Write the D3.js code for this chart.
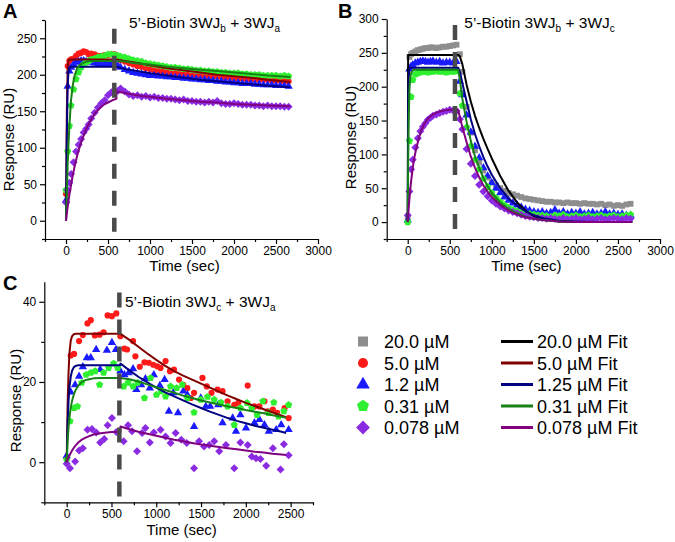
<!DOCTYPE html>
<html><head><meta charset="utf-8">
<script src="https://cdn.jsdelivr.net/npm/d3@7"></script>
<style>
body{margin:0;background:#fff}
svg text{font-family:Arial,"Liberation Sans",sans-serif;fill:#000}
</style>
</head><body>
<svg id="c" width="675" height="542"></svg>
<script>
// ---------------- DATA ----------------
const seriesKeys = ["gray","red","blue","green","purple"];
const legendData = ["20.0 µM","5.0 µM","1.2 µM","0.31 µM","0.078 µM"];
const legendFit  = ["20.0 µM Fit","5.0 µM Fit","1.25 µM Fit","0.31 µM Fit","0.078 µM Fit"];

const xTicksAB = [0,500,1000,1500,2000,2500,3000];
const xMinorAB = [-250,250,750,1250,1750,2250,2750];
const yTicksA = [0,50,100,150,200,250];
const yMinorA = [-25,25,75,125,175,225,275];
const yTicksB = [0,50,100,150,200,250,300];
const yMinorB = [-25,25,75,125,175,225,275];
const xTicksC = [0,500,1000,1500,2000,2500];
const xMinorC = [-250,250,750,1250,1750,2250,2750];
const yTicksC = [0,20,40];
const yMinorC = [-10,10,30];

// sample times for panels A and B (sec)
const tAB = [0,20,40,60,90,120,150,180,210,240,270,300,340,380,420,460,500,540,580,620,650,700,750,800,850,900,950,1000,1050,1100,1150,1200,1250,1300,1350,1400,1450,1500,1550,1600,1650,1700,1750,1800,1850,1900,1950,2000,2050,2100,2150,2200,2250,2300,2350,2400,2450,2500,2550,2600,2650];

// Panel A: 5'-Biotin 3WJb + 3WJa
const aRed = [37,212,219,221,222,226,229,230,232,231,228,229,228,226,226,227,227,228,228,
  222,220,218,216,214,212,211,209,208,206,205,204,203,202,202,201,200,200,199,200,199,198,198,197,198,197,196,196,195,195,195,194,194,194,193,193,193,192,192,192,191,191];
const aBlue = [28,184,205,210,214,217,218,219,219,218,218,217,216,215,214,214,215,216,216,
  212,210,207,205,203,202,201,200,199,199,198,198,197,197,196,196,195,195,194,194,193,193,192,192,191,191,190,190,189,189,188,188,188,187,187,186,186,186,185,185,185,184];
const aGreen = [42,95,130,158,180,194,203,210,214,217,219,221,222,224,225,226,228,228,227,
  226,225,224,222,220,219,218,216,215,214,213,212,211,210,210,209,208,208,207,206,206,205,205,204,204,203,203,202,202,202,201,201,200,200,200,199,199,199,199,198,199,198];
const aPurple = [25,42,52,64,80,95,104,112,121,126,132,140,148,155,161,165,172,176,178,
  178,181,177,173,171,172,170,171,169,170,168,168,167,167,166,165,166,164,164,163,163,162,163,162,164,161,160,160,161,160,159,159,159,158,158,157,158,157,157,157,156,156];

const tFitA = [0,10,20,30,40,60,80,100,130,160,200,250,300,350,400,450,500,550,600,600,700,800,900,1000,1200,1400,1600,1800,2000,2200,2400,2670];
const aRedFit = [0,150,210,220,221,221,221,221,221,221,221,221,221,221,221,221,221,221,221,221,219,217,215,213,209,206,203,200,198,196,193,190];
const aBlueFit = [0,120,185,205,210,211,211,211,211,211,211,211,211,211,211,211,211,211,211,211,208,206,204,202,199,196,193,191,189,187,185,183];
const aGreenFit = [0,40,78,105,130,165,185,198,208,213,216,218,219,219,219,219,219,219,219,219,218,216,215,214,211,209,207,205,203,201,199,197];
const aPurpleFit = [0,10,19,27,35,49,62,73,88,100,114,128,139,148,154,159,162,165,167,177,175,173,171,170,167,165,163,162,160,159,158,157];

// Panel B: 5'-Biotin 3WJb + 3WJc
const bGray = [5,244,248,250,252,254,255,256,257,257,258,258,257,258,259,259,260,261,262,
  248,222,170,132,106,88,76,66,59,54,50,46,43,41,39,37,35,34,33,32,31,30,30,29,29,28,29,28,28,27,28,27,27,26,27,25,26,24,25,24,26,27];
const bBlue = [3,226,230,232,235,236,237,238,237,236,237,238,236,237,235,236,236,235,237,
  208,188,158,133,112,95,80,68,58,50,43,37,32,28,25,22,19,17,15,14,15,13,14,18,13,15,12,14,13,15,12,13,14,12,13,15,12,13,11,12,10,10];
const bGreen = [0,120,185,210,218,220,221,222,222,221,222,222,223,222,222,221,222,222,223,
  190,172,140,112,92,78,64,52,43,36,30,25,21,18,16,14,13,12,11,10,10,9,8,10,9,11,8,9,10,8,9,10,8,9,10,8,9,10,8,9,10,11];
const bPurple = [10,45,78,92,110,124,134,141,146,151,154,157,159,161,163,164,166,165,164,
  152,137,108,86,68,55,45,38,32,27,23,20,17,15,13,11,9,8,7,6,6,5,6,5,4,6,4,5,6,4,5,6,4,5,6,4,5,6,5,4,6,5];

const tFitB = [0,5,10,20,30,40,60,80,100,130,160,200,250,300,350,400,450,500,550,600,620,650,700,750,800,850,900,950,1000,1100,1200,1300,1400,1500,1600,1800,2000,2300,2670];
const bBlackFit = [0,247,247,247,247,247,247,247,247,247,247,247,247,247,247,247,247,247,247,247,245,233,203,178,157,139,123,108,94,68,46,29,17,9,5,1,0,0,0];
const bBlueFit = [0,150,210,227,228,228,228,228,228,228,228,228,228,228,228,228,228,228,228,228,222,205,178,152,130,112,96,82,70,50,35,24,16,10,6,2,1,0,0];
const bGreenFit = [0,80,140,195,213,220,224,225,225,225,225,225,225,225,225,225,225,225,225,225,210,182,148,120,97,80,65,53,43,29,19,13,8,5,3,1,0,0,0];
const bPurpleFit = [0,9,18,34,48,60,80,96,108,123,135,146,154,159,162,164,165,166,166,166,155,140,118,97,80,66,54,45,37,25,17,11,7,5,3,1,0,0,0];

// Panel C: 5'-Biotin 3WJc + 3WJa
const cRedT = [0,45,82,138,180,232,269,314,367,412,457,505,554,599,644,674,741,767,816,868,917,966,1010,1048,1104,1153,1198,1254,1302,1347,1385,1422,1516,1564,1617,1684,1740,1796,1871,1916,2021,2096,2152,2208,2245,2302,2350,2433,2478];
const cRed = [1,26.6,27,30.2,31.7,34.6,35.4,31.6,31.8,32.4,36.6,36.4,37.1,31.4,28.3,28.1,30.2,26.4,23.8,24.9,24.8,24.3,23.9,23.5,25.2,22.7,23.1,20.6,19.3,18.5,16,17.3,21,18.9,17.3,18.1,17.7,15.2,14.3,14.8,19.1,13.9,13.9,15.2,12.7,13.1,12.3,13.5,11];
const cBlueT = [0,45,94,138,180,225,269,329,374,449,505,550,599,644,692,741,778,831,879,928,973,1040,1093,1141,1190,1243,1302,1347,1422,1497,1553,1602,1692,1740,1853,1890,1939,2002,2096,2152,2208,2257,2339,2395,2478];
const cBlue = [1.6,17.5,19.3,21.4,23.8,26,26,28.1,23.1,27.9,29.8,28.1,22.7,21.8,22.3,23.3,18.1,19.3,20.8,18.5,21.8,19.1,20.6,12.7,17.3,12.3,17.7,16.8,8.9,16,13.9,13.9,14.3,9.8,11,7.7,11.8,8.5,9.8,10.6,9.3,7.7,8.1,9.3,8.1];
const cGreenT = [0,37,82,120,168,217,269,318,367,412,468,524,569,636,685,741,793,868,936,1003,1055,1104,1160,1228,1291,1347,1422,1497,1572,1647,1722,1796,1871,1939,2013,2066,2126,2189,2253,2313,2365,2425,2478];
const cGreen = [0.6,10.2,13.5,13.9,19.8,21.8,22.3,22.7,19.3,22.3,23.5,24.6,23.5,18.9,19.8,18.9,19.8,16,21,16.8,17.7,16.4,18.9,18.5,19.3,16,12.4,15.6,16.3,15.6,14.9,13.9,9.3,13.5,14.8,13.5,11.8,15.2,12.3,14.9,11.4,12.7,14.3];
const cPurpleT = [0,37,94,138,180,232,281,329,374,419,457,505,554,636,685,730,786,842,879,928,973,1048,1104,1160,1216,1280,1340,1422,1478,1534,1591,1647,1703,1778,1871,1939,2021,2066,2114,2163,2227,2302,2388,2425,2478];
const cPurple = [-0.4,-1.5,0.2,2.9,3.5,8.1,8.3,7.4,4.9,5.8,9.2,11,7.5,5.2,9.2,7.7,2.7,7.3,8.5,4.9,7.4,8.1,6.4,4.8,7.3,5.6,4.8,-1.5,5.2,3.9,4.3,5.2,2.7,4.3,-1.5,4.9,4.3,1.4,1,0.8,-0.9,3.5,-1.8,4.5,1.7];

const tFitC = [0,10,20,30,45,60,80,100,130,160,200,250,300,400,500,600,600,700,800,900,1000,1100,1200,1300,1400,1500,1600,1700,1800,1900,2000,2100,2200,2300,2400,2450];
const cRedFit = [0,14,22,27,30.3,31.4,31.9,32,32,32,32,32,32,32,32,32,32,30.5,28.8,27.1,25.5,24,22.7,21.6,20.6,19.6,18.6,17.6,16.6,15.7,14.8,14,13.2,12.4,11.6,11.2];
const cBlueFit = [0,9,15,18.5,21.3,22.8,23.7,24,24.2,24.2,24.2,24.2,24.2,24.2,24.2,24.2,24.6,22.9,21.3,19.9,18.6,17.4,16.4,15.4,14.4,13.5,12.6,11.8,11,10.3,9.7,9.1,8.6,8.1,7.6,7.3];
const cGreenFit = [0,5,8.5,11,13.6,15.3,16.9,18,19.1,19.8,20.4,20.7,20.9,21,21,21,21,20.7,20.1,19.4,18.7,18,17.3,16.6,16,15.4,14.9,14.4,13.9,13.5,13,12.6,12.2,11.7,11.3,11.1];
const cPurpleFit = [0,0.6,1.1,1.6,2.3,2.9,3.6,4.2,4.9,5.5,6,6.5,6.9,7.3,7.5,7.6,8.9,8.2,7.6,7.1,6.6,6.1,5.6,5.2,4.8,4.4,4.1,3.8,3.5,3.2,2.9,2.6,2.4,2.1,1.9,1.8];

// injection end markers (time, value span)
const injA = {t:575, v0:-15, v1:263};
const injB = {t:562, v0:-15, v1:291};
const injC = {t:588, v0:-10, v1:42.3};

const titleA = [["5’-Biotin 3WJ",0],["b",1],[" + 3WJ",0],["a",1]];
const titleB = [["5’-Biotin 3WJ",0],["b",1],[" + 3WJ",0],["c",1]];
const titleC = [["5’-Biotin 3WJ",0],["c",1],[" + 3WJ",0],["a",1]];

// ---------------- STYLE ----------------
const pent = {draw(ctx,size){const r=Math.sqrt(size/2.3776);for(let i=0;i<5;i++){const a=-Math.PI/2+i*2*Math.PI/5;const px=r*Math.cos(a),py=r*Math.sin(a);if(i)ctx.lineTo(px,py);else ctx.moveTo(px,py);}ctx.closePath();}};
const diam = {draw(ctx,size){const r=Math.sqrt(size/2);ctx.moveTo(0,-r);ctx.lineTo(r,0);ctx.lineTo(0,r);ctx.lineTo(-r,0);ctx.closePath();}};
const style = {
  gray:  {fill:"#8e8e8e", shape:d3.symbolSquare,   size:34, fit:"#000000"},
  red:   {fill:"#ff1a1a", shape:d3.symbolCircle,   size:30, fit:"#800000"},
  blue:  {fill:"#1a1aff", shape:d3.symbolTriangle, size:30, fit:"#000080"},
  green: {fill:"#2ef02e", shape:pent,              size:34, fit:"#178017"},
  purple:{fill:"#8a2be2", shape:diam,              size:32, fit:"#800080"}
};

const panels = [
 {letter:"A", l:45, r:318, t:20, b:239, xd:[-250,3000], yd:[-25,275],
  xMaj:xTicksAB, xMin:xMinorAB, yMaj:yTicksA, yMin:yMinorA,
  data:[["red",tAB,aRed],["blue",tAB,aBlue],["green",tAB,aGreen],["purple",tAB,aPurple]],
  fits:[["red",tFitA,aRedFit],["blue",tFitA,aBlueFit],["green",tFitA,aGreenFit],["purple",tFitA,aPurpleFit]],
  inj:injA, title:titleA, tx:129, ty:27.5, ytx:14, yty:139.5, xty:271, lx:3, ly:18},
 {letter:"B", l:386.7, r:660, t:19, b:239, xd:[-250,3000], yd:[-25,300],
  xMaj:xTicksAB, xMin:xMinorAB, yMaj:yTicksB, yMin:yMinorB,
  data:[["gray",tAB,bGray],["blue",tAB,bBlue],["green",tAB,bGreen],["purple",tAB,bPurple]],
  fits:[["gray",tFitB,bBlackFit],["blue",tFitB,bBlueFit],["green",tFitB,bGreenFit],["purple",tFitB,bPurpleFit]],
  inj:injB, title:titleB, tx:464.3, ty:27.5, ytx:355.5, yty:137.5, xty:271, lx:338, ly:18},
 {letter:"C", l:44.3, r:313, t:281.7, b:502.3, xd:[-250,2750], yd:[-10,45],
  xMaj:xTicksC, xMin:xMinorC, yMaj:yTicksC, yMin:yMinorC,
  data:[["red",cRedT,cRed],["blue",cBlueT,cBlue],["green",cGreenT,cGreen],["purple",cPurpleT,cPurple]],
  fits:[["red",tFitC,cRedFit],["blue",tFitC,cBlueFit],["green",tFitC,cGreenFit],["purple",tFitC,cPurpleFit]],
  inj:injC, title:titleC, tx:125, ty:306.8, ytx:20.5, yty:400.5, xty:535, lx:3, ly:290}
];

// ---------------- DRAW ----------------
const svg = d3.select("#c");

panels.forEach(p => {
  const g = svg.append("g");
  const x = d3.scaleLinear().domain(p.xd).range([p.l, p.r]);
  const y = d3.scaleLinear().domain(p.yd).range([p.b, p.t]);

  // data points
  p.data.forEach(([k, ts, vs]) => {
    const s = style[k];
    const sym = d3.symbol().type(s.shape).size(s.size);
    g.append("g").selectAll("path").data(ts.map((t,i)=>[t,vs[i]])).join("path")
      .attr("transform", d => `translate(${x(d[0])},${y(d[1])})`)
      .attr("d", sym).attr("fill", s.fill);
  });
  // fits
  const line = d3.line().x(d=>x(d[0])).y(d=>y(d[1]));
  p.fits.forEach(([k, ts, vs]) => {
    g.append("path").datum(ts.map((t,i)=>[t,vs[i]]))
      .attr("d", line).attr("fill","none").attr("stroke", style[k].fit)
      .attr("stroke-width", 2).attr("stroke-linejoin","round");
  });
  // injection end dashed line
  g.append("line").attr("x1", x(p.inj.t)).attr("x2", x(p.inj.t))
    .attr("y1", y(p.inj.v1)).attr("y2", y(p.inj.v0))
    .attr("stroke","#4a4a4a").attr("stroke-width",4.5).attr("stroke-dasharray","15,12");

  // axes
  const fmt = d3.format("d");
  g.append("g").attr("transform",`translate(0,${p.b})`)
    .call(d3.axisBottom(x).tickValues(p.xMaj).tickFormat(fmt).tickSize(5).tickPadding(2).tickSizeOuter(0));
  g.append("g").attr("transform",`translate(0,${p.b})`)
    .call(d3.axisBottom(x).tickValues(p.xMin).tickFormat("").tickSize(3))
    .call(a=>a.select(".domain").remove());
  g.append("g").attr("transform",`translate(${p.l},0)`)
    .call(d3.axisLeft(y).tickValues(p.yMaj).tickFormat(fmt).tickSize(5).tickPadding(3).tickSizeOuter(0));
  g.append("g").attr("transform",`translate(${p.l},0)`)
    .call(d3.axisLeft(y).tickValues(p.yMin).tickFormat("").tickSize(3))
    .call(a=>a.select(".domain").remove());
  g.selectAll(".domain, .tick line").attr("stroke","#000").attr("stroke-width",1.2);
  g.selectAll(".tick text").attr("font-size","12px").attr("font-family",'Arial,"Liberation Sans",sans-serif');

  // axis titles
  g.append("text").attr("x",(p.l+p.r)/2 + 3).attr("y",p.xty).attr("text-anchor","middle")
    .attr("font-size","15px").text("Time (sec)");
  g.append("text").attr("transform",`translate(${p.ytx},${p.yty}) rotate(-90)`)
    .attr("text-anchor","middle").attr("font-size","15px").text("Response (RU)");

  // panel title
  const tt = g.append("text").attr("x",p.tx).attr("y",p.ty).attr("font-size","15.5px");
  let shift = 0;
  p.title.forEach(([s, sub]) => {
    const dy = sub ? 4 - shift : -shift;
    shift = sub ? 4 : 0;
    tt.append("tspan").attr("dy", dy).attr("font-size", sub ? "10px" : "15.5px").text(s);
  });
  // panel letter
  g.append("text").attr("x",p.lx).attr("y",p.ly).attr("font-size","20px")
    .attr("font-weight","bold").text(p.letter);
});

// legend
const lg = svg.append("g");
seriesKeys.forEach((k, i) => {
  const cy = 341.5 + i*21.5;
  const s = style[k];
  const big = {gray:100, red:80, blue:80, green:95, purple:95}[k];
  lg.append("path").attr("transform",`translate(363,${cy})`)
    .attr("d", d3.symbol().type(s.shape).size(big)).attr("fill", s.fill);
  lg.append("text").attr("x",384).attr("y",cy+6.5).attr("font-size","18px").text(legendData[i]);
  lg.append("line").attr("x1",501).attr("x2",533).attr("y1",cy).attr("y2",cy)
    .attr("stroke", s.fit).attr("stroke-width",3);
  lg.append("text").attr("x",537).attr("y",cy+6.5).attr("font-size","18px").text(legendFit[i]);
});
</script>
</body></html>
